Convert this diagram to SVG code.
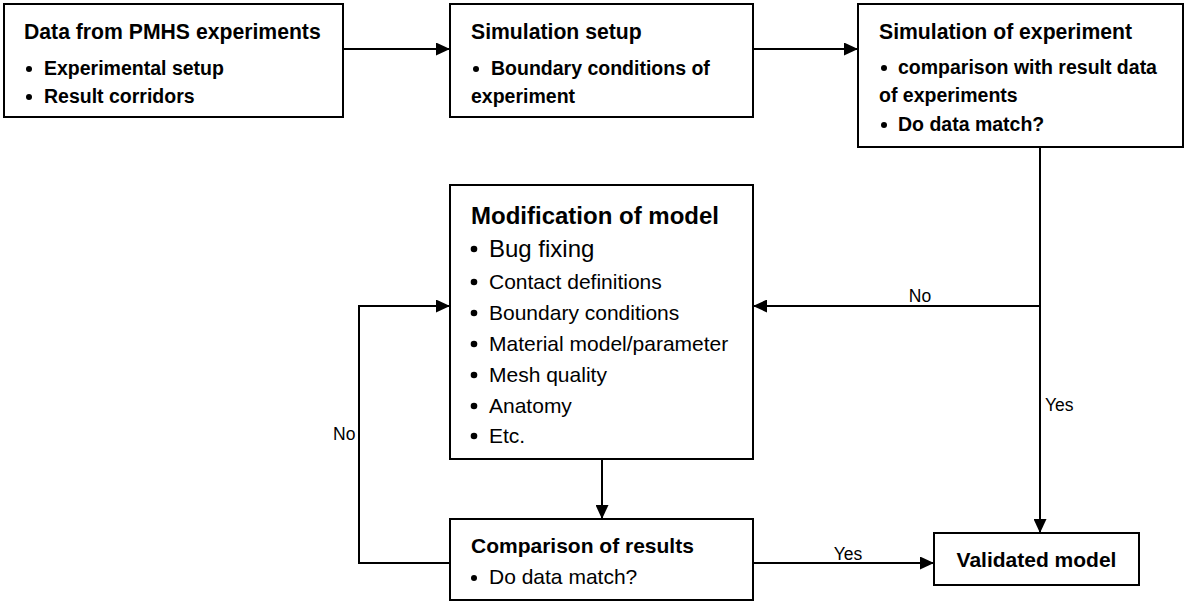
<svg xmlns="http://www.w3.org/2000/svg" width="1187" height="603" viewBox="0 0 1187 603">
<style>
  .box { fill: #fff; stroke: #000; stroke-width: 2; }
  .t { font-family: "Liberation Sans", Arial, sans-serif; fill: #000; }
  .title { font-size: 21.2px; font-weight: bold; }
  .bb { font-size: 19.5px; font-weight: bold; }
  .mt { font-size: 24px; font-weight: bold; }
  .mr { font-size: 21px; }
  .lbl { font-size: 17.5px; }
  .conn { fill: none; stroke: #000; stroke-width: 2; }
</style>
<defs>
  <marker id="arr" markerUnits="userSpaceOnUse" markerWidth="15" markerHeight="13" refX="14" refY="6.5" orient="auto">
    <path d="M0,0 L14,6.5 L0,13 z" fill="#000"/>
  </marker>
</defs>
<rect width="1187" height="603" fill="#fff"/>

<g id="connectors">
  <path class="conn" d="M343,49 H450" marker-end="url(#arr)"/>
  <path class="conn" d="M753,49 H858" marker-end="url(#arr)"/>
  <path class="conn" d="M1040,147 V533" marker-end="url(#arr)"/>
  <path class="conn" d="M1040,306 H753" marker-end="url(#arr)"/>
  <path class="conn" d="M602,459 V519" marker-end="url(#arr)"/>
  <path class="conn" d="M450,563 H359 V306 H450" marker-end="url(#arr)"/>
  <path class="conn" d="M753,563 H934" marker-end="url(#arr)"/>
  <text class="t lbl" x="920" y="302" text-anchor="middle">No</text>
  <text class="t lbl" x="1045" y="411">Yes</text>
  <text class="t lbl" x="333" y="440">No</text>
  <text class="t lbl" x="848" y="560" text-anchor="middle">Yes</text>
</g>

<g id="pmhs">
  <rect class="box" x="4" y="4" width="339" height="113"/>
  <text class="t title" x="24" y="39">Data from PMHS experiments</text>
  <circle cx="29" cy="69" r="3"/>
  <text class="t bb" x="44" y="75">Experimental setup</text>
  <circle cx="29" cy="97" r="3"/>
  <text class="t bb" x="44" y="103">Result corridors</text>
</g>

<g id="simsetup">
  <rect class="box" x="450" y="4" width="303" height="113"/>
  <text class="t title" x="471" y="39">Simulation setup</text>
  <circle cx="476" cy="69" r="3"/>
  <text class="t bb" x="491" y="75">Boundary conditions of</text>
  <text class="t bb" x="471" y="103">experiment</text>
</g>

<g id="simexp">
  <rect class="box" x="858" y="4" width="325" height="143"/>
  <text class="t title" x="879" y="39">Simulation of experiment</text>
  <circle cx="884" cy="68" r="3"/>
  <text class="t bb" x="898" y="74">comparison with result data</text>
  <text class="t bb" x="879" y="102">of experiments</text>
  <circle cx="884" cy="125" r="3"/>
  <text class="t bb" x="898" y="131">Do data match?</text>
</g>

<g id="modification">
  <rect class="box" x="450" y="185" width="303" height="274"/>
  <text class="t mt" x="471" y="224">Modification of model</text>
  <g>
    <circle cx="474" cy="249" r="3.3"/>
    <circle cx="474" cy="282" r="3.3"/>
    <circle cx="474" cy="313" r="3.3"/>
    <circle cx="474" cy="344" r="3.3"/>
    <circle cx="474" cy="375" r="3.3"/>
    <circle cx="474" cy="406" r="3.3"/>
    <circle cx="474" cy="436" r="3.3"/>
  </g>
  <text class="t" font-size="24" x="489" y="257">Bug fixing</text>
  <text class="t mr" x="489" y="289">Contact definitions</text>
  <text class="t mr" x="489" y="320">Boundary conditions</text>
  <text class="t mr" x="489" y="351">Material model/parameter</text>
  <text class="t mr" x="489" y="382">Mesh quality</text>
  <text class="t mr" x="489" y="413">Anatomy</text>
  <text class="t mr" x="489" y="443">Etc.</text>
</g>

<g id="comparison">
  <rect class="box" x="450" y="519" width="303" height="81"/>
  <text class="t" font-size="21" font-weight="bold" x="471" y="553">Comparison of results</text>
  <circle cx="474" cy="578" r="3"/>
  <text class="t mr" x="489" y="584">Do data match?</text>
</g>

<g id="validated">
  <rect class="box" x="934" y="533" width="205" height="52"/>
  <text class="t" font-size="21" font-weight="bold" x="1036.5" y="567" text-anchor="middle">Validated model</text>
</g>
</svg>
